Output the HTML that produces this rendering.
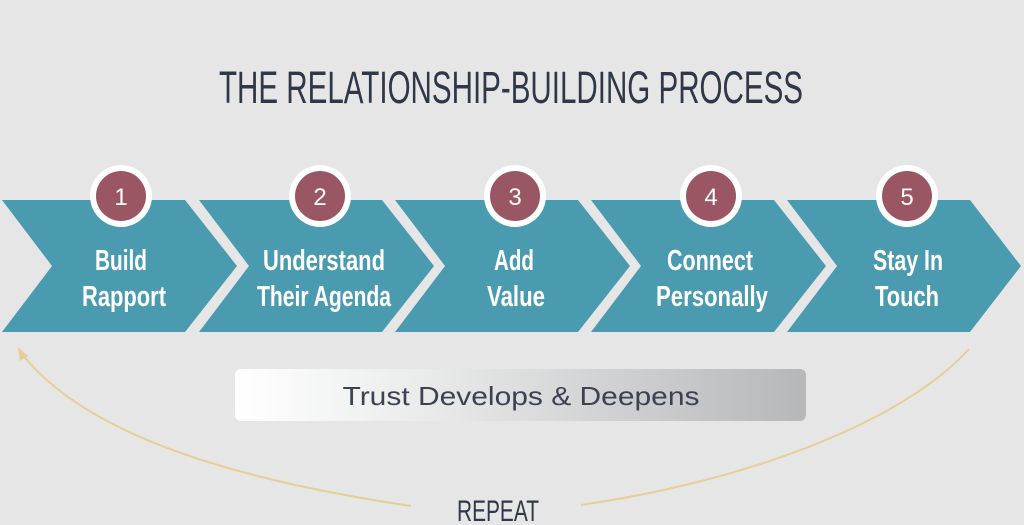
<!DOCTYPE html>
<html><head><meta charset="utf-8"><style>
html,body{margin:0;padding:0;background:#e6e6e6;width:1024px;height:525px;overflow:hidden}
svg{display:block}
</style></head><body>
<svg width="1024" height="525" viewBox="0 0 1024 525" xmlns="http://www.w3.org/2000/svg">
<defs>
<linearGradient id="g" x1="0" x2="1" y1="0" y2="0">
<stop offset="0" stop-color="#ffffff"/><stop offset="0.3" stop-color="#eceded"/><stop offset="1" stop-color="#b6b7b9"/>
</linearGradient>
</defs>
<rect width="1024" height="525" fill="#e6e6e6"/>
<text x="511" y="103" text-anchor="middle" font-family="'Liberation Sans Narrow','Liberation Sans',sans-serif" font-size="45" fill="#2e3849" textLength="584" lengthAdjust="spacingAndGlyphs">THE RELATIONSHIP-BUILDING PROCESS</text>
<g fill="#4a9bb0">
<polygon points="2,200 185,200 237,266 185,332 2,332 52,266"/>
<polygon points="199,200 382,200 434,266 382,332 199,332 249,266"/>
<polygon points="395,200 578,200 630,266 578,332 395,332 445,266"/>
<polygon points="591,200 774,200 826,266 774,332 591,332 641,266"/>
<polygon points="787,200 970,200 1021,266 970,332 787,332 837,266"/>
</g>
<g font-family="'Liberation Sans Narrow','Liberation Sans',sans-serif" text-anchor="middle">
<g fill="#fff"><circle cx="121" cy="196" r="31"/><circle cx="320" cy="196" r="31"/><circle cx="515" cy="196" r="31"/><circle cx="711" cy="196" r="31"/><circle cx="907" cy="196" r="31"/></g>
<g fill="#9b5663"><circle cx="121" cy="196" r="25"/><circle cx="320" cy="196" r="25"/><circle cx="515" cy="196" r="25"/><circle cx="711" cy="196" r="25"/><circle cx="907" cy="196" r="25"/></g>
<g fill="#fff" font-size="24"><text x="121" y="205">1</text><text x="320" y="205">2</text><text x="515" y="205">3</text><text x="711" y="205">4</text><text x="907" y="205">5</text></g>
<g fill="#fff" font-size="29" font-weight="bold">
<text x="121" y="270" textLength="52" lengthAdjust="spacingAndGlyphs">Build</text>
<text x="124" y="306" textLength="84" lengthAdjust="spacingAndGlyphs">Rapport</text>
<text x="324" y="270" textLength="122" lengthAdjust="spacingAndGlyphs">Understand</text>
<text x="324" y="306" textLength="134" lengthAdjust="spacingAndGlyphs">Their Agenda</text>
<text x="514" y="270" textLength="40" lengthAdjust="spacingAndGlyphs">Add</text>
<text x="516" y="306" textLength="58" lengthAdjust="spacingAndGlyphs">Value</text>
<text x="710" y="270" textLength="86" lengthAdjust="spacingAndGlyphs">Connect</text>
<text x="712" y="306" textLength="112" lengthAdjust="spacingAndGlyphs">Personally</text>
<text x="908" y="270" textLength="70" lengthAdjust="spacingAndGlyphs">Stay In</text>
<text x="907" y="306" textLength="64" lengthAdjust="spacingAndGlyphs">Touch</text>
</g>
</g>
<rect x="235" y="369" width="571" height="52" rx="6" fill="url(#g)"/>
<text x="521" y="405" text-anchor="middle" font-family="'Liberation Sans',sans-serif" font-size="26" fill="#3b4353" textLength="357" lengthAdjust="spacingAndGlyphs">Trust Develops &amp; Deepens</text>
<g fill="none" stroke="#e6cf96" stroke-width="2">
<path d="M411,506 C250,482 90,440 22,354"/>
<path d="M581,505 C740,482 900,425 969,349"/>
</g>
<polygon points="18,347 28,356 20,361" fill="#e6cf96"/>
<text x="498" y="521" text-anchor="middle" font-family="'Liberation Sans Narrow','Liberation Sans',sans-serif" font-size="30" fill="#2e3849" textLength="82" lengthAdjust="spacingAndGlyphs">REPEAT</text>
</svg>
</body></html>
